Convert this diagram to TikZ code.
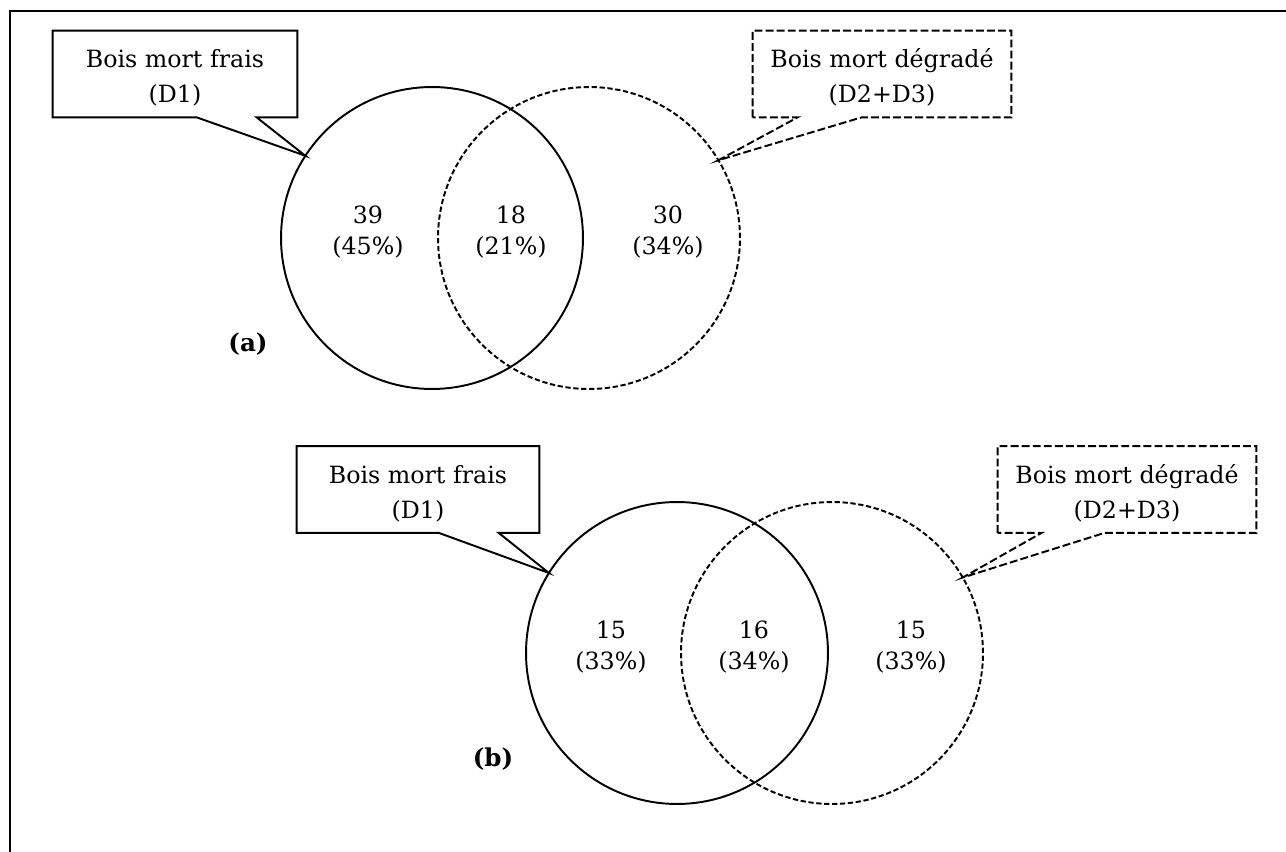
\documentclass[tikz,border=0pt]{standalone}
\usepackage{fontspec}
\setmainfont{DejaVu Serif}

\tikzset{
  cercle/.style={circle, draw, line width=1.1pt, minimum size=6.04cm, inner sep=0pt, outer sep=0pt},
  cerclepts/.style={cercle, dash pattern=on 3pt off 1.5pt},
  bulle/.style={line width=1.1pt},
  bullepts/.style={bulle, dash pattern=on 4.5pt off 1.8pt},
  nombre/.style={align=center, font=\fontsize{13.5}{17.6}\selectfont},
  titre/.style={align=center, font=\fontsize{13.5}{20}\selectfont, minimum height=1.72cm},
  lettre/.style={font=\fontsize{14}{16}\selectfont\bfseries}
}

\begin{document}
\begin{tikzpicture}[x=0.02cm, y=-0.02cm]
  \useasboundingbox (0,0) rectangle (1286,852);
  \draw[line width=1.1pt] (1286,11) -- (10,11) -- (10,852);

  % (a)
  \node[cercle] (fraisA) at (432,238) {};
  \node[cerclepts] (degradeA) at (589,238) {};
  \node[nombre] (nFraisA) at (368,232) {39\\(45\%)};
  \node[nombre] (nCommunA) at (511,232) {18\\(21\%)};
  \node[nombre] (nDegradeA) at (668,232) {30\\(34\%)};
  \node[lettre] (lettreA) at (248,344) {(a)};

  \node[titre, minimum width=4.88cm] (bulleFraisA) at (175,74) {\rule{0pt}{15pt}Bois mort frais\\(D1)};
  \draw[bulle] (bulleFraisA.south west) |- (bulleFraisA.north east)
    |- ([xshift=4.08cm]bulleFraisA.south west) -- (fraisA.147)
    -- ([xshift=2.88cm]bulleFraisA.south west) -- cycle;
  \node[titre, minimum width=5.16cm] (bulleDegradeA) at (882,74) {\rule{0pt}{15pt}Bois mort dégradé\\(D2+D3)};
  \draw[bullepts] (bulleDegradeA.south west) |- (bulleDegradeA.north east)
    |- ([xshift=2.18cm]bulleDegradeA.south west) -- (degradeA.31)
    -- ([xshift=0.9cm]bulleDegradeA.south west) -- cycle;

  % (b)
  \node[cercle] (fraisB) at (677,653) {};
  \node[cerclepts] (degradeB) at (832,653) {};
  \node[nombre] (nFraisB) at (611,647) {15\\(33\%)};
  \node[nombre] (nCommunB) at (754,647) {16\\(34\%)};
  \node[nombre] (nDegradeB) at (911,647) {15\\(33\%)};
  \node[lettre] (lettreB) at (493,759) {(b)};

  \node[titre, minimum width=4.84cm] (bulleFraisB) at (418,489.5) {\rule{0pt}{15pt}Bois mort frais\\(D1)};
  \draw[bulle] (bulleFraisB.south west) |- (bulleFraisB.north east)
    |- ([xshift=4.04cm]bulleFraisB.south west) -- (fraisB.148)
    -- ([xshift=2.84cm]bulleFraisB.south west) -- cycle;
  \node[titre, minimum width=5.16cm] (bulleDegradeB) at (1127,489.5) {\rule{0pt}{15pt}Bois mort dégradé\\(D2+D3)};
  \draw[bullepts] (bulleDegradeB.south west) |- (bulleDegradeB.north east)
    |- ([xshift=2.14cm]bulleDegradeB.south west) -- (degradeB.30)
    -- ([xshift=0.88cm]bulleDegradeB.south west) -- cycle;
\end{tikzpicture}
\end{document}
